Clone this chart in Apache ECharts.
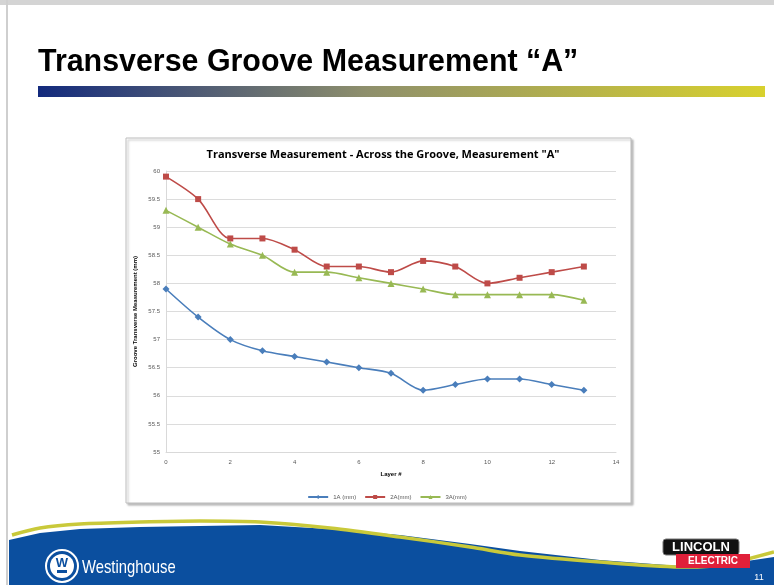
<!DOCTYPE html>
<html><head><meta charset="utf-8">
<script src="https://cdn.jsdelivr.net/npm/echarts@6/dist/echarts.min.js"></script>
<style>html,body{margin:0;padding:0;background:#fff}#c{width:774px;height:585px}</style>
</head><body><div id="c"></div>
<script>
const layers = [0,1,2,3,4,5,6,7,8,9,10,11,12,13];
const series1A = [57.9,57.4,57.0,56.8,56.7,56.6,56.5,56.4,56.1,56.2,56.3,56.3,56.2,56.1];
const series2A = [59.9,59.5,58.8,58.8,58.6,58.3,58.3,58.2,58.4,58.3,58.0,58.1,58.2,58.3];
const series3A = [59.3,59.0,58.7,58.5,58.2,58.2,58.1,58.0,57.9,57.8,57.8,57.8,57.8,57.7];
const seriesNames = ['1A (mm)','2A(mm)','3A(mm)'];
const slideTitle = 'Transverse Groove Measurement \u201CA\u201D';
const chartTitle = 'Transverse Measurement - Across the Groove, Measurement "A"';
const xName = 'Layer #';
const yName = 'Groove Transverse Measurement (mm)';

const chart = echarts.init(document.getElementById('c'), null, {renderer:'canvas'});
const pair = (xs, ys) => xs.map((x,i)=>[x, ys[i]]);

const blueEdge = [[9,540],[40,533],[80,529],[140,527],[200,526],[260,525],[330,529],[400,535],[470,544],[520,551],[600,560],[680,566],[720,565],[774,557]];
const yellowEdge = [[12,535],[40,528],[80,524],[140,522],[200,521],[260,522],[330,528],[400,537],[470,547],[520,555],[600,562],[680,567],[720,565],[774,552]];

const graphics = [
  {type:'rect', z:-10, shape:{x:0,y:0,width:774,height:585}, style:{fill:'#ffffff'}},
  {type:'rect', z:-9, shape:{x:0,y:0,width:774,height:5}, style:{fill:'#d4d4d4'}},
  {type:'rect', z:-9, shape:{x:6,y:0,width:2,height:585}, style:{fill:'#cfcfcf'}},
  {type:'text', z:-5, x:38, y:62, scaleX:0.98, originX:0, originY:0, style:{text:slideTitle, font:'bold 31px "Liberation Sans", Arial, sans-serif', fill:'#000', verticalAlign:'middle'}},
  {type:'rect', z:-5, shape:{x:38,y:86,width:727,height:11}, style:{fill:new echarts.graphic.LinearGradient(0,0,1,0,[{offset:0,color:'#132a7d'},{offset:0.45,color:'#8e8f6c'},{offset:1,color:'#d8d12e'}])}},
  {type:'rect', z:-8, shape:{x:126,y:138,width:505,height:365}, style:{fill:'#fff', stroke:'#bdbdbd', lineWidth:1, shadowColor:'rgba(0,0,0,0.25)', shadowOffsetX:2, shadowOffsetY:2, shadowBlur:2}},
  {type:'polygon', z:-5, shape:{points: blueEdge.concat([[774,585],[9,585]])}, style:{fill:'#0b4f9f'}},
  {type:'polyline', z:-4, shape:{points: yellowEdge, smooth:0.3}, style:{stroke:'#c9c93a', lineWidth:3.5, fill:null}},
  {type:'circle', z:-3, shape:{cx:62,cy:566,r:16}, style:{fill:'#0b4f9f', stroke:'#fff', lineWidth:2}},
  {type:'circle', z:-3, shape:{cx:62,cy:566,r:12}, style:{fill:'#fff'}},
  {type:'text', z:-2, x:62, y:563, style:{text:'W', font:'bold 13px "Liberation Sans", Arial', fill:'#0b4f9f', align:'center', verticalAlign:'middle'}},
  {type:'rect', z:-2, shape:{x:57,y:570,width:10,height:3}, style:{fill:'#0b4f9f'}},
  {type:'text', z:-2, x:82, y:568, scaleX:0.78, originX:0, originY:0, style:{text:'Westinghouse', font:'19px "Liberation Sans", Arial', fill:'#fff', verticalAlign:'middle'}},
  {type:'rect', z:-2, shape:{x:663,y:539,width:76,height:16,r:3}, style:{fill:'#111', stroke:'#777', lineWidth:1}},
  {type:'text', z:-1, x:701, y:547.5, style:{text:'LINCOLN', font:'bold 13px "Liberation Sans", Arial', fill:'#fff', align:'center', verticalAlign:'middle'}},
  {type:'rect', z:-2, shape:{x:676,y:554,width:74,height:14}, style:{fill:'#e0203a'}},
  {type:'text', z:-1, x:713, y:561.5, style:{text:'ELECTRIC', font:'bold 10px "Liberation Sans", Arial', fill:'#fff', align:'center', verticalAlign:'middle'}},
  {type:'text', z:-1, x:759, y:578, style:{text:'11', font:'9px "Liberation Sans", Arial', fill:'#fff', align:'center', verticalAlign:'middle'}}
];

const small = {color:'#595959', fontSize:6, fontFamily:'"Liberation Sans", Arial'};

chart.setOption({
  animation:false,
  backgroundColor:'#fff',
  title:{text:chartTitle, left:378, top:144, textAlign:'center', textStyle:{fontSize:11, fontWeight:'bold', color:'#000', fontFamily:'"Open Sans", "Liberation Sans", Arial'}},
  grid:{left:166, right:158, top:171, bottom:133},
  legend:{top:489, left:'center', data:seriesNames, itemWidth:20, itemHeight:5, itemGap:8, textStyle:{...small}},
  xAxis:{type:'value', min:0, max:14, interval:2, name:xName, nameLocation:'middle', nameGap:19, nameMoveOverlap:false,
    nameTextStyle:{fontSize:6, fontWeight:'bold', color:'#000'},
    axisLine:{lineStyle:{color:'#d9d9d9'}}, axisTick:{show:false}, splitLine:{show:false},
    axisLabel:{...small, margin:7}},
  yAxis:{type:'value', min:55, max:60, interval:0.5, name:yName, nameLocation:'middle', nameGap:28, nameMoveOverlap:false,
    nameTextStyle:{fontSize:6, fontWeight:'bold', color:'#000'},
    axisLine:{show:true, lineStyle:{color:'#d9d9d9'}}, axisTick:{show:false},
    splitLine:{lineStyle:{color:'#dcdcdc'}},
    axisLabel:{...small, margin:6}},
  series:[
    {name:seriesNames[0], type:'line', data:pair(layers,series1A), smooth:0.3, symbol:'diamond', symbolSize:7,
      itemStyle:{color:'#4a7ebb'}, lineStyle:{width:1.6, color:'#4a7ebb'}},
    {name:seriesNames[1], type:'line', data:pair(layers,series2A), smooth:0.3, symbol:'rect', symbolSize:6,
      itemStyle:{color:'#be4b48'}, lineStyle:{width:1.6, color:'#be4b48'}},
    {name:seriesNames[2], type:'line', data:pair(layers,series3A), smooth:0.3, symbol:'triangle', symbolSize:7,
      itemStyle:{color:'#98b954'}, lineStyle:{width:1.6, color:'#98b954'}}
  ],
  graphic:{elements:graphics}
});
</script></body></html>
